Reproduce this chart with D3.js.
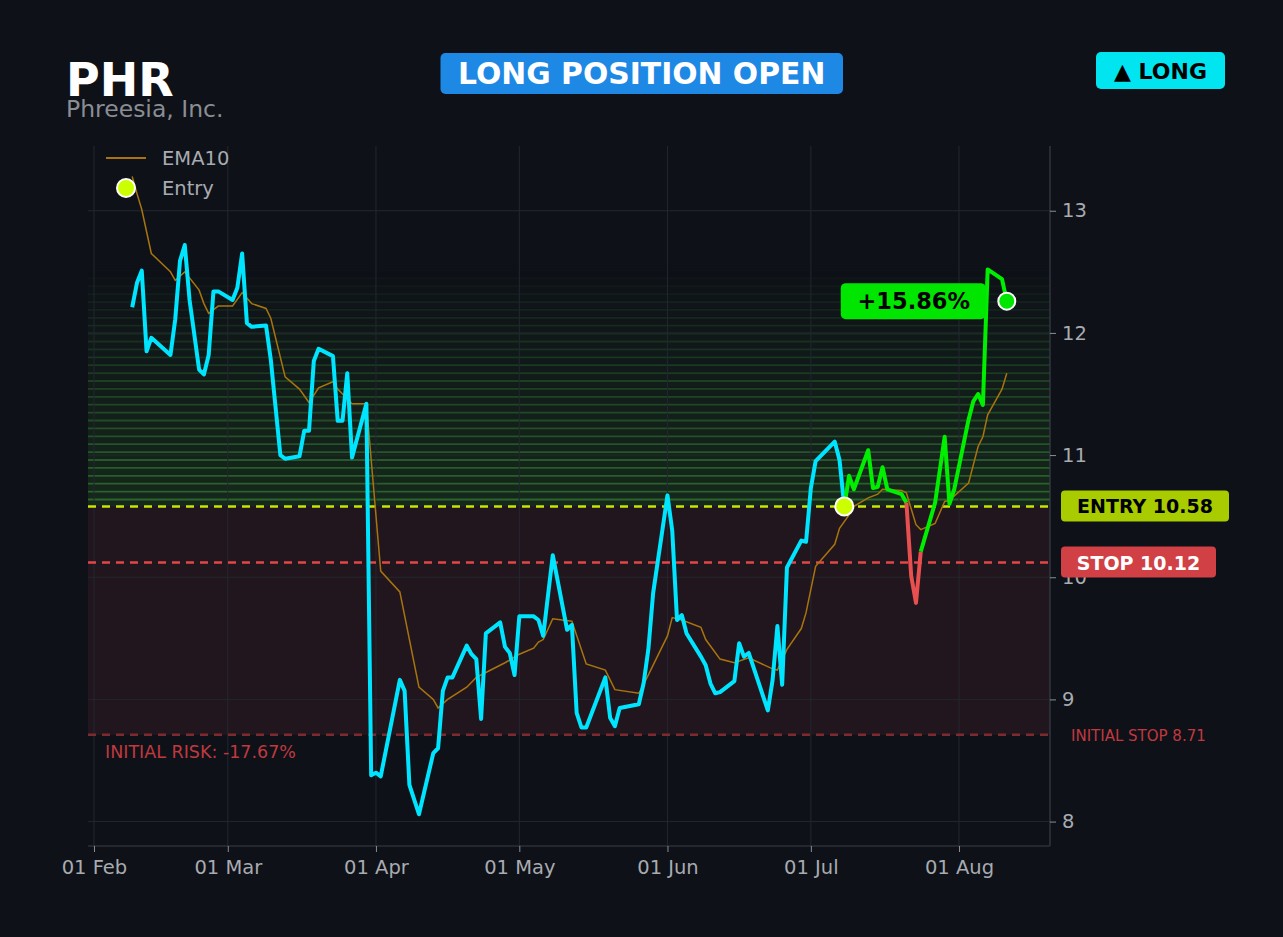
<!DOCTYPE html>
<html>
<head>
<meta charset="utf-8">
<script src="https://cdn.jsdelivr.net/npm/d3@7"></script>
<style>
  body { margin: 0; background: #0e1118; }
  text { font-family: "DejaVu Sans", sans-serif; }
</style>
</head>
<body>
<svg id="chart"></svg>
<script>
// Close prices (date, value)
const priceDates = [
  "2023-02-09","2023-02-10","2023-02-11","2023-02-12","2023-02-13","2023-02-17","2023-02-18","2023-02-19","2023-02-20","2023-02-21",
  "2023-02-23","2023-02-24","2023-02-25","2023-02-26","2023-02-27","2023-03-02","2023-03-03","2023-03-04","2023-03-05","2023-03-06",
  "2023-03-09","2023-03-10","2023-03-12","2023-03-13","2023-03-16","2023-03-17","2023-03-18","2023-03-19","2023-03-20","2023-03-23",
  "2023-03-24","2023-03-25","2023-03-26","2023-03-27","2023-03-30","2023-03-31","2023-04-01","2023-04-02","2023-04-06","2023-04-07",
  "2023-04-08","2023-04-10","2023-04-13","2023-04-14","2023-04-15","2023-04-16","2023-04-17","2023-04-20","2023-04-21","2023-04-22",
  "2023-04-23","2023-04-24","2023-04-27","2023-04-28","2023-04-29","2023-04-30","2023-05-01","2023-05-04","2023-05-05","2023-05-06",
  "2023-05-08","2023-05-11","2023-05-12","2023-05-13","2023-05-14","2023-05-15","2023-05-19","2023-05-20","2023-05-21","2023-05-22",
  "2023-05-26","2023-05-27","2023-05-28","2023-05-29","2023-06-01","2023-06-02","2023-06-03","2023-06-04","2023-06-05","2023-06-08",
  "2023-06-09","2023-06-10","2023-06-11","2023-06-12","2023-06-15","2023-06-16","2023-06-17","2023-06-18","2023-06-22","2023-06-23",
  "2023-06-24","2023-06-25","2023-06-26","2023-06-29","2023-06-30","2023-07-01","2023-07-02","2023-07-06","2023-07-07","2023-07-08",
  "2023-07-09","2023-07-10","2023-07-13","2023-07-14","2023-07-15","2023-07-16","2023-07-17","2023-07-20","2023-07-21","2023-07-22",
  "2023-07-23","2023-07-24","2023-07-27","2023-07-29","2023-07-30","2023-07-31","2023-08-03","2023-08-04","2023-08-05","2023-08-06",
  "2023-08-07","2023-08-10","2023-08-11"
];
const priceValues = [
  12.21,12.41,12.51,11.85,11.96,11.82,12.11,12.59,12.72,12.27,
  11.70,11.66,11.82,12.34,12.34,12.27,12.37,12.65,12.08,12.05,
  12.06,11.78,11.00,10.97,10.99,11.20,11.20,11.77,11.87,11.81,
  11.28,11.28,11.67,10.98,11.42,8.38,8.40,8.37,9.16,9.07,
  8.30,8.06,8.56,8.60,9.07,9.18,9.18,9.44,9.37,9.33,
  8.84,9.54,9.63,9.43,9.38,9.20,9.68,9.68,9.65,9.52,
  10.18,9.57,9.61,8.89,8.77,8.77,9.18,8.85,8.78,8.93,
  8.96,9.13,9.41,9.87,10.67,10.38,9.65,9.69,9.54,9.35,
  9.28,9.13,9.05,9.06,9.15,9.46,9.35,9.38,8.91,9.16,
  9.60,9.12,10.08,10.30,10.29,10.73,10.95,11.11,10.96,10.58,
  10.83,10.72,11.04,10.73,10.74,10.90,10.72,10.68,10.61,10.01,
  9.79,10.21,10.61,11.15,10.60,10.72,11.29,11.44,11.50,11.41,
  12.52,12.44,12.26
];

// EMA10 (date, value)
const emaDates = [
  "2023-02-09","2023-02-10","2023-02-11","2023-02-13","2023-02-17","2023-02-18","2023-02-20","2023-02-23","2023-02-24","2023-02-25",
  "2023-02-27","2023-03-02","2023-03-04","2023-03-06","2023-03-09","2023-03-10","2023-03-13","2023-03-16","2023-03-18","2023-03-20",
  "2023-03-23","2023-03-24","2023-03-27","2023-03-30","2023-04-02","2023-04-06","2023-04-10","2023-04-13","2023-04-14","2023-04-16",
  "2023-04-20","2023-04-22","2023-04-24","2023-04-28","2023-05-01","2023-05-04","2023-05-05","2023-05-06","2023-05-08","2023-05-12",
  "2023-05-15","2023-05-19","2023-05-21","2023-05-26","2023-05-27","2023-05-29","2023-06-01","2023-06-02","2023-06-04","2023-06-08",
  "2023-06-09","2023-06-12","2023-06-15","2023-06-18","2023-06-23","2023-06-24","2023-06-26","2023-06-29","2023-06-30","2023-07-02",
  "2023-07-06","2023-07-07","2023-07-09","2023-07-10","2023-07-13","2023-07-15","2023-07-16","2023-07-20","2023-07-21","2023-07-23",
  "2023-07-24","2023-07-27","2023-07-29","2023-07-30","2023-08-03","2023-08-05","2023-08-06","2023-08-07","2023-08-10","2023-08-11"
];
const emaValues = [
  13.28,13.14,13.01,12.65,12.50,12.43,12.50,12.35,12.24,12.16,
  12.22,12.22,12.33,12.24,12.20,12.12,11.64,11.54,11.43,11.55,
  11.60,11.54,11.42,11.42,10.05,9.88,9.10,9.00,8.93,9.00,
  9.10,9.18,9.22,9.30,9.37,9.42,9.47,9.49,9.66,9.64,
  9.29,9.24,9.08,9.05,9.12,9.28,9.52,9.67,9.65,9.59,
  9.49,9.33,9.30,9.34,9.25,9.24,9.41,9.58,9.71,10.09,
  10.27,10.40,10.51,10.58,10.65,10.68,10.72,10.71,10.69,10.43,
  10.39,10.44,10.62,10.63,10.77,11.07,11.15,11.33,11.54,11.67
];

// Trade levels
const ticker = "PHR";
const companyName = "Phreesia, Inc.";
const entryDate = "2023-07-08";
const entryPrice = 10.58;
const stopPrice = 10.12;
const initialStop = 8.71;
const returnPct = "+15.86%";
const initialRisk = "-17.67%";
const yTicks = [8, 9, 10, 11, 12, 13];
const xTicks = ["2023-02-01","2023-03-01","2023-04-01","2023-05-01","2023-06-01","2023-07-01","2023-08-01"];

const parseDate = d3.timeParse("%Y-%m-%d");

// Page size
const svgWidth = 1283;
const svgHeight = 937;
const margin = { top: 146, right: 233, bottom: 91, left: 88 };
const width = svgWidth - margin.left - margin.right;
const height = svgHeight - margin.top - margin.bottom;

const svg = d3.select("#chart")
  .attr("width", svgWidth)
  .attr("height", svgHeight)
  .style("display", "block");

svg.append("rect")
  .attr("width", svgWidth)
  .attr("height", svgHeight)
  .attr("fill", "#0e1118");

const chart = svg.append("g")
  .attr("transform", "translate(" + margin.left + "," + margin.top + ")");

// Scales
const xScale = d3.scaleTime()
  .domain([new Date(2023, 0, 30, 18), new Date(2023, 7, 20, 1)])
  .range([0, width]);

const yScale = d3.scaleLinear()
  .domain([7.8, 13.53])
  .range([height, 0]);

const price = priceDates.map((d, i) => ({ date: parseDate(d), value: priceValues[i] }));
const ema = emaDates.map((d, i) => ({ date: parseDate(d), value: emaValues[i] }));
const entryIndex = priceDates.indexOf(entryDate);
// highest close since the entry
const maxPrice = d3.max(priceValues.slice(entryIndex));

// Risk zone (initial stop up to entry)
chart.append("rect")
  .attr("x", 0)
  .attr("width", width)
  .attr("y", yScale(entryPrice))
  .attr("height", yScale(initialStop) - yScale(entryPrice))
  .attr("fill", "#21161d");

// Profit zone: stacked stripes fading upward
const bandCount = 30;
const bandStep = (maxPrice - entryPrice) / bandCount;
for (let i = 0; i < bandCount; i++) {
  const lo = entryPrice + i * bandStep;
  const hi = lo + bandStep;
  const fade = 1 - i / bandCount;
  chart.append("rect")
    .attr("x", 0)
    .attr("width", width)
    .attr("y", yScale(hi))
    .attr("height", yScale(lo) - yScale(hi))
    .attr("fill", "#368427")
    .attr("opacity", 0.2 * fade);
  chart.append("line")
    .attr("x1", 0)
    .attr("x2", width)
    .attr("y1", yScale(hi) + 1)
    .attr("y2", yScale(hi) + 1)
    .attr("stroke", "#3a8f3c")
    .attr("stroke-width", 1.8)
    .attr("opacity", 0.6 * fade);
}

// Grid
chart.append("g")
  .selectAll("line")
  .data(yTicks)
  .enter().append("line")
  .attr("x1", 0).attr("x2", width)
  .attr("y1", d => yScale(d)).attr("y2", d => yScale(d))
  .attr("stroke", "#232730")
  .attr("stroke-width", 1);

chart.append("g")
  .selectAll("line")
  .data(xTicks)
  .enter().append("line")
  .attr("x1", d => xScale(parseDate(d))).attr("x2", d => xScale(parseDate(d)))
  .attr("y1", 0).attr("y2", height)
  .attr("stroke", "#232730")
  .attr("stroke-width", 1);

// Level lines
function levelLine(value, color, width_) {
  chart.append("line")
    .attr("x1", 0).attr("x2", width)
    .attr("y1", yScale(value)).attr("y2", yScale(value))
    .attr("stroke", color)
    .attr("stroke-width", width_)
    .attr("stroke-dasharray", "8,6");
}
levelLine(initialStop, "#7c2c31", 2.5);
levelLine(stopPrice, "#e04848", 2.5);
levelLine(entryPrice, "#c8e600", 2.5);

// EMA10
const line = d3.line()
  .x(d => xScale(d.date))
  .y(d => yScale(d.value));

chart.append("path")
  .datum(ema)
  .attr("fill", "none")
  .attr("stroke", "#a8740f")
  .attr("stroke-width", 1.5)
  .attr("d", line);

// Price line, coloured by trade state
const segments = [];
for (let i = 1; i < price.length; i++) {
  let color;
  if (i <= entryIndex) color = "#00e5ff";
  else if (price[i - 1].value < stopPrice || price[i].value < stopPrice) color = "#e85050";
  else color = "#00ee00";
  const last = segments[segments.length - 1];
  if (last && last.color === color) last.points.push(price[i]);
  else segments.push({ color: color, points: [price[i - 1], price[i]] });
}

chart.selectAll(".price-seg")
  .data(segments)
  .enter().append("path")
  .attr("class", "price-seg")
  .attr("fill", "none")
  .attr("stroke", d => d.color)
  .attr("stroke-width", 4)
  .attr("stroke-linejoin", "round")
  .attr("d", d => line(d.points));

// Entry and current markers
chart.append("circle")
  .attr("cx", xScale(parseDate(entryDate)))
  .attr("cy", yScale(entryPrice))
  .attr("r", 9)
  .attr("fill", "#ccff00")
  .attr("stroke", "#ffffff")
  .attr("stroke-width", 2);

const lastPt = price[price.length - 1];
chart.append("circle")
  .attr("cx", xScale(lastPt.date))
  .attr("cy", yScale(lastPt.value))
  .attr("r", 8.5)
  .attr("fill", "#00e600")
  .attr("stroke", "#ffffff")
  .attr("stroke-width", 2);

// Return badge
const retX = xScale(lastPt.date) - 21;
const retY = yScale(lastPt.value);
chart.append("rect")
  .attr("x", retX - 145)
  .attr("y", retY - 18)
  .attr("width", 145)
  .attr("height", 36)
  .attr("rx", 5)
  .attr("fill", "#00e600");
chart.append("text")
  .attr("x", retX - 72)
  .attr("y", retY + 8)
  .attr("text-anchor", "middle")
  .attr("font-size", 22.5)
  .attr("font-weight", "bold")
  .attr("fill", "#000")
  .text(returnPct);

// Initial risk note
chart.append("text")
  .attr("x", 17)
  .attr("y", yScale(initialStop) + 23)
  .attr("font-size", 17.5)
  .attr("fill", "#c0393f")
  .text("INITIAL RISK: " + initialRisk);

// Axes
const xAxis = d3.axisBottom(xScale)
  .tickValues(xTicks.map(parseDate))
  .tickFormat(d3.timeFormat("%d %b"))
  .tickSize(6)
  .tickPadding(8);

const xAxisGroup = chart.append("g")
  .attr("class", "x-axis")
  .attr("transform", "translate(0," + height + ")")
  .call(xAxis);

const yAxisGroup = chart.append("g")
  .attr("class", "y-axis")
  .attr("transform", "translate(" + width + ",0)")
  .call(d3.axisRight(yScale).tickValues(yTicks).tickFormat(d3.format("d")).tickSize(6).tickPadding(6));

[xAxisGroup, yAxisGroup].forEach(g => {
  g.select(".domain").attr("stroke", "#3a3e48").attr("stroke-width", 1.2);
  g.selectAll(".tick line").attr("stroke", "#8a8e96");
  g.selectAll("text")
    .attr("fill", "#a8abb0")
    .attr("font-size", 19.5)
    .style("font-family", "DejaVu Sans, sans-serif");
});
xAxisGroup.select(".domain").attr("d", "M0,0H" + width);
yAxisGroup.select(".domain").attr("d", "M0,0V" + height);

// Right-side level labels
function levelLabel(value, text, bg, fg, w) {
  const y = yScale(value);
  svg.append("rect")
    .attr("x", 1061)
    .attr("y", margin.top + y - 16)
    .attr("width", w)
    .attr("height", 31)
    .attr("rx", 4)
    .attr("fill", bg);
  svg.append("text")
    .attr("x", 1061 + w / 2)
    .attr("y", margin.top + y + 7)
    .attr("text-anchor", "middle")
    .attr("font-size", 19)
    .attr("font-weight", "bold")
    .attr("fill", fg)
    .text(text);
}
levelLabel(entryPrice, "ENTRY " + entryPrice.toFixed(2), "#a8cc00", "#000000", 168);
levelLabel(stopPrice, "STOP " + stopPrice.toFixed(2), "#d04045", "#ffffff", 155);

svg.append("text")
  .attr("x", 1071)
  .attr("y", margin.top + yScale(initialStop) + 6)
  .attr("font-size", 15)
  .attr("fill", "#c0393f")
  .text("INITIAL STOP " + initialStop.toFixed(2));

// Legend
const legend = svg.append("g").attr("transform", "translate(106,158)");
legend.append("line")
  .attr("x1", 0).attr("x2", 40)
  .attr("stroke", "#a8740f")
  .attr("stroke-width", 2);
legend.append("text")
  .attr("x", 56).attr("y", 7)
  .attr("font-size", 19.5)
  .attr("fill", "#a8abb0")
  .text("EMA10");
legend.append("circle")
  .attr("cx", 20).attr("cy", 30)
  .attr("r", 9)
  .attr("fill", "#ccff00")
  .attr("stroke", "#ffffff")
  .attr("stroke-width", 2);
legend.append("text")
  .attr("x", 56).attr("y", 37)
  .attr("font-size", 19.5)
  .attr("fill", "#a8abb0")
  .text("Entry");

// Header
svg.append("text")
  .attr("x", 66).attr("y", 96)
  .attr("font-size", 46)
  .attr("font-weight", "bold")
  .attr("fill", "#ffffff")
  .text(ticker);

svg.append("text")
  .attr("x", 66).attr("y", 117)
  .attr("font-size", 23.5)
  .attr("fill", "#8a8d93")
  .text(companyName);

svg.append("rect")
  .attr("x", 440.5).attr("y", 53)
  .attr("width", 402.5).attr("height", 41)
  .attr("rx", 5)
  .attr("fill", "#1e88e5");
svg.append("text")
  .attr("x", 641.7).attr("y", 84)
  .attr("text-anchor", "middle")
  .attr("font-size", 29.8)
  .attr("font-weight", "bold")
  .attr("fill", "#ffffff")
  .text("LONG POSITION OPEN");

svg.append("rect")
  .attr("x", 1096).attr("y", 52)
  .attr("width", 129).attr("height", 37)
  .attr("rx", 5)
  .attr("fill", "#00e5f0");
svg.append("text")
  .attr("x", 1160.5).attr("y", 79)
  .attr("text-anchor", "middle")
  .attr("font-size", 22)
  .attr("font-weight", "bold")
  .attr("fill", "#000000")
  .text("▲ LONG");
</script>
</body>
</html>
